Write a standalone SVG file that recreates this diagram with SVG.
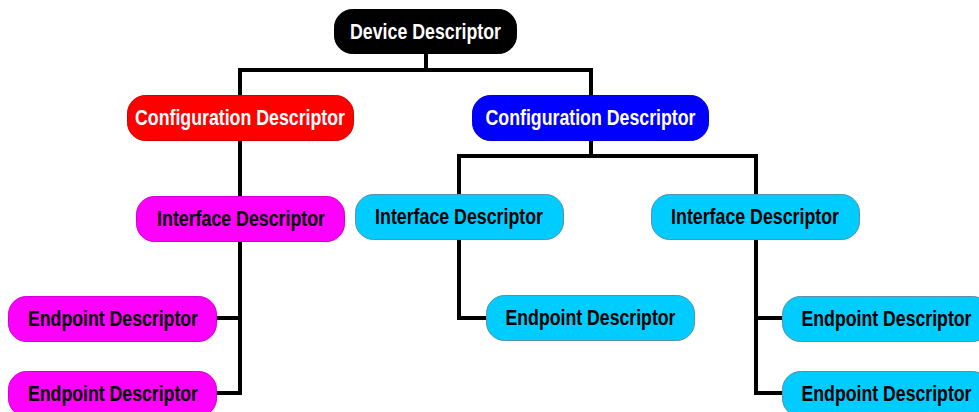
<svg xmlns="http://www.w3.org/2000/svg" width="979" height="412" viewBox="0 0 979 412">
<style>
.lbl{font-family:"Liberation Sans",Arial,sans-serif;font-weight:bold;font-size:22px;text-anchor:middle}
.w{fill:#ffffff}
.k{fill:#000000}
.conn{fill:none;stroke:#000000;stroke-width:4;stroke-linejoin:miter;stroke-linecap:butt}
.n rect{stroke-width:1}
</style>
<rect width="979" height="412" fill="#ffffff"/>
<g id="connectors" class="conn">
<path d="M426 53 V70 M240 70 H591 M240 68 V95 M591 68 V95"/>
<path d="M240 140 V197"/>
<path d="M240 241 V393 M216 318 H242 M216 393 H242"/>
<path d="M591 140 V156 M459 156 H756 M459 154 V194 M756 154 V194"/>
<path d="M459 239 V318 H487"/>
<path d="M756 239 V393 M754 318 H783 M754 393 H783"/>
</g>
<g id="device" class="n"><rect x="334.5" y="9.5" width="182" height="44" rx="18" fill="#000000" stroke="#000000"/><text class="lbl w" transform="translate(425.5,39) scale(0.807,1)">Device Descriptor</text></g>
<g id="config1" class="n"><rect x="127.5" y="95.5" width="226" height="45" rx="18" fill="#ff0000" stroke="#d00000"/><text class="lbl w" transform="translate(240,125) scale(0.807,1)">Configuration Descriptor</text></g>
<g id="config2" class="n"><rect x="472.5" y="95.5" width="236" height="45" rx="18" fill="#0000ff" stroke="#0000d0"/><text class="lbl w" transform="translate(590.5,125) scale(0.807,1)">Configuration Descriptor</text></g>
<g id="iface1" class="n"><rect x="136.5" y="196.5" width="208" height="45" rx="18" fill="#ff00ff" stroke="#d000d0"/><text class="lbl k" transform="translate(241,226) scale(0.808,1)">Interface Descriptor</text></g>
<g id="ep1" class="n"><rect x="8.5" y="296.5" width="208" height="45" rx="18" fill="#ff00ff" stroke="#d000d0"/><text class="lbl k" transform="translate(113,326) scale(0.804,1)">Endpoint Descriptor</text></g>
<g id="ep2" class="n"><rect x="8.5" y="371.5" width="208" height="45" rx="18" fill="#ff00ff" stroke="#d000d0"/><text class="lbl k" transform="translate(113,401) scale(0.804,1)">Endpoint Descriptor</text></g>
<g id="iface2" class="n"><rect x="355.5" y="194.5" width="208" height="45" rx="18" fill="#00ccff" stroke="#5a8fa8"/><text class="lbl k" transform="translate(459,224) scale(0.808,1)">Interface Descriptor</text></g>
<g id="ep3" class="n"><rect x="486.5" y="295.5" width="208" height="45" rx="18" fill="#00ccff" stroke="#5a8fa8"/><text class="lbl k" transform="translate(590.5,325) scale(0.804,1)">Endpoint Descriptor</text></g>
<g id="iface3" class="n"><rect x="651.5" y="194.5" width="208" height="45" rx="18" fill="#00ccff" stroke="#5a8fa8"/><text class="lbl k" transform="translate(755,224) scale(0.808,1)">Interface Descriptor</text></g>
<g id="ep4" class="n"><rect x="782.5" y="296.5" width="208" height="45" rx="18" fill="#00ccff" stroke="#5a8fa8"/><text class="lbl k" transform="translate(886.5,326) scale(0.804,1)">Endpoint Descriptor</text></g>
<g id="ep5" class="n"><rect x="782.5" y="371.5" width="208" height="45" rx="18" fill="#00ccff" stroke="#5a8fa8"/><text class="lbl k" transform="translate(886.5,401) scale(0.804,1)">Endpoint Descriptor</text></g>
</svg>
